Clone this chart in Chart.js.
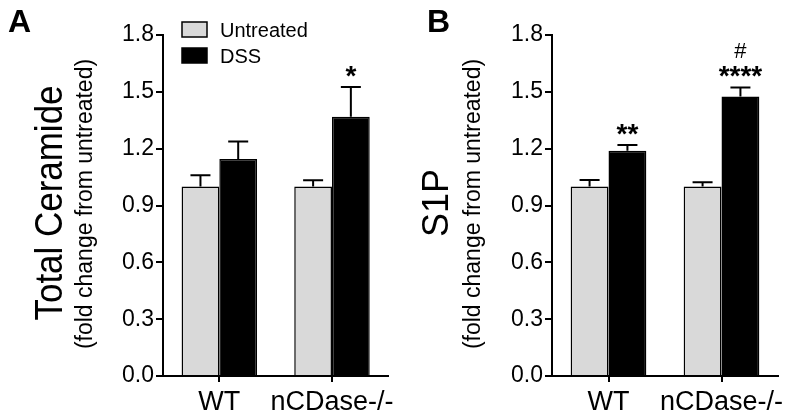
<!DOCTYPE html>
<html>
<head>
<meta charset="utf-8">
<script src="https://cdn.jsdelivr.net/npm/chart.js@4"></script>
<style>
    body { margin: 0; background: #fff; }
    .panel { position: absolute; top: 0; width: 400px; height: 420px; }
</style>
</head>
<body>
<div class="panel" style="left:0"><canvas id="chartA" width="400" height="420"></canvas></div>
<div class="panel" style="left:400px"><canvas id="chartB" width="400" height="420"></canvas></div>
<script>
// Data
const groups = ['WT', 'nCDase-/-'];
const seriesNames = ['Untreated', 'DSS'];
const yTickValues = [0, 0.3, 0.6, 0.9, 1.2, 1.5, 1.8];

const ceramideUntreated = [1.00, 1.00];
const ceramideUntreatedErr = [0.06, 0.033];
const ceramideDSS = [1.146, 1.368];
const ceramideDSSErr = [0.092, 0.157];
const ceramideStars = ['', '*'];
const ceramideHash = ['', ''];

const s1pUntreated = [1.00, 1.00];
const s1pUntreatedErr = [0.035, 0.023];
const s1pDSS = [1.189, 1.475];
const s1pDSSErr = [0.03, 0.048];
const s1pStars = ['**', '****'];
const s1pHash = ['', '#'];

const FONT = "'Liberation Sans', Arial, Helvetica, sans-serif";
const barColors = ['#d9d9d9', '#000000'];

// Error bars + significance marks drawn on top of the bars
function makeOverlayPlugin(panel) {
    return {
        id: 'overlay' + panel.letter,
        afterDatasetsDraw(chart) {
            const ctx = chart.ctx;
            const yScale = chart.scales.y;
            ctx.save();
            ctx.strokeStyle = '#000';
            ctx.lineWidth = 2;
            chart.data.datasets.forEach((ds, i) => {
                const meta = chart.getDatasetMeta(i);
                meta.data.forEach((bar, j) => {
                    const yTop = yScale.getPixelForValue(ds.data[j] + ds.errors[j]);
                    ctx.beginPath();
                    ctx.moveTo(bar.x, bar.y);
                    ctx.lineTo(bar.x, yTop);
                    ctx.moveTo(bar.x - 10, yTop);
                    ctx.lineTo(bar.x + 10, yTop);
                    ctx.stroke();

                    if (ds.stars && ds.stars[j]) {
                        const base = yTop - 2;
                        ctx.fillStyle = '#000';
                        ctx.textAlign = 'center';
                        ctx.textBaseline = 'alphabetic';
                        ctx.font = `bold 28px ${FONT}`;
                        ctx.fillText(ds.stars[j], bar.x, base);
                        if (ds.hash && ds.hash[j]) {
                            ctx.font = `22px ${FONT}`;
                            ctx.fillText(ds.hash[j], bar.x, base - 27);
                        }
                    }
                });
            });
            ctx.restore();
        },
        afterDraw(chart) {
            const ctx = chart.ctx;
            ctx.save();
            ctx.fillStyle = '#000';

            // panel letter
            ctx.font = `bold 32px ${FONT}`;
            ctx.textAlign = 'left';
            ctx.textBaseline = 'alphabetic';
            ctx.fillText(panel.letter, panel.letterX, 32);

            // y titles (rotated)
            ctx.save();
            ctx.translate(panel.titleX, 203);
            ctx.rotate(-Math.PI / 2);
            ctx.textAlign = 'center';
            ctx.font = `${panel.titleSize}px ${FONT}`;
            ctx.fillText(panel.title, 0, 0, panel.titleMax);
            ctx.restore();

            ctx.save();
            ctx.translate(panel.subX, 204);
            ctx.rotate(-Math.PI / 2);
            ctx.textAlign = 'center';
            ctx.font = `23px ${FONT}`;
            ctx.fillText('(fold change from untreated)', 0, 0, 302);
            ctx.restore();

            // legend
            if (panel.legend) {
                ctx.font = `20px ${FONT}`;
                ctx.lineWidth = 1.5;
                ctx.strokeStyle = '#000';
                chart.data.datasets.forEach((ds, i) => {
                    const top = 22 + i * 26;
                    ctx.fillStyle = ds.backgroundColor;
                    ctx.fillRect(182, top, 25, 15);
                    ctx.strokeRect(182, top, 25, 15);
                    ctx.fillStyle = '#000';
                    ctx.fillText(ds.label, 220, top + 15);
                });
            }
            ctx.restore();
        }
    };
}

function buildChart(canvasId, panel, untreated, untreatedErr, dss, dssErr, stars, hash) {
    const ctx = document.getElementById(canvasId).getContext('2d');
    return new Chart(ctx, {
        type: 'bar',
        data: {
            labels: groups,
            datasets: [
                {
                    label: seriesNames[0],
                    data: untreated,
                    errors: untreatedErr,
                    backgroundColor: barColors[0],
                    borderColor: '#000',
                    borderWidth: 1.5,
                    borderSkipped: 'bottom'
                },
                {
                    label: seriesNames[1],
                    data: dss,
                    errors: dssErr,
                    stars: stars,
                    hash: hash,
                    backgroundColor: barColors[1],
                    borderColor: '#000',
                    borderWidth: 1.5,
                    borderSkipped: 'bottom'
                }
            ]
        },
        options: {
            responsive: false,
            animation: false,
            categoryPercentage: 0.67,
            barPercentage: 1.0,
            layout: { padding: { left: 0, right: panel.padRight, top: 35, bottom: 0 } },
            plugins: {
                legend: { display: false },
                tooltip: { enabled: false }
            },
            scales: {
                y: {
                    min: 0,
                    max: 1.8,
                    afterBuildTicks: (s) => { s.ticks = yTickValues.map(v => ({ value: v })); },
                    afterFit: (s) => { s.width = panel.axisX; },
                    ticks: {
                        color: '#000',
                        padding: 2,
                        font: { family: FONT, size: 23 },
                        callback: (v) => Number(v).toFixed(1)
                    },
                    grid: { drawOnChartArea: false, drawTicks: true, tickLength: 7, color: '#000', lineWidth: 2 },
                    border: { display: true, color: '#000', width: 2 }
                },
                x: {
                    afterFit: (s) => { s.height = 44; },
                    ticks: {
                        color: '#000',
                        padding: 4,
                        autoSkip: false,
                        maxRotation: 0,
                        minRotation: 0,
                        font: { family: FONT, size: 27 }
                    },
                    grid: { offset: false, drawOnChartArea: false, drawTicks: true, tickLength: 6, color: '#000', lineWidth: 2 },
                    border: { display: true, color: '#000', width: 2 }
                }
            }
        },
        plugins: [makeOverlayPlugin(panel)]
    });
}

buildChart('chartA', {
    letter: 'A', letterX: 8, axisX: 163, padRight: 10,
    title: 'Total Ceramide', titleX: 62, titleSize: 38, titleMax: 235,
    subX: 92, legend: true
}, ceramideUntreated, ceramideUntreatedErr, ceramideDSS, ceramideDSSErr, ceramideStars, ceramideHash);

buildChart('chartB', {
    letter: 'B', letterX: 27, axisX: 152, padRight: 22,
    title: 'S1P', titleX: 48, titleSize: 36, titleMax: 999,
    subX: 80, legend: false
}, s1pUntreated, s1pUntreatedErr, s1pDSS, s1pDSSErr, s1pStars, s1pHash);
</script>
</body>
</html>
